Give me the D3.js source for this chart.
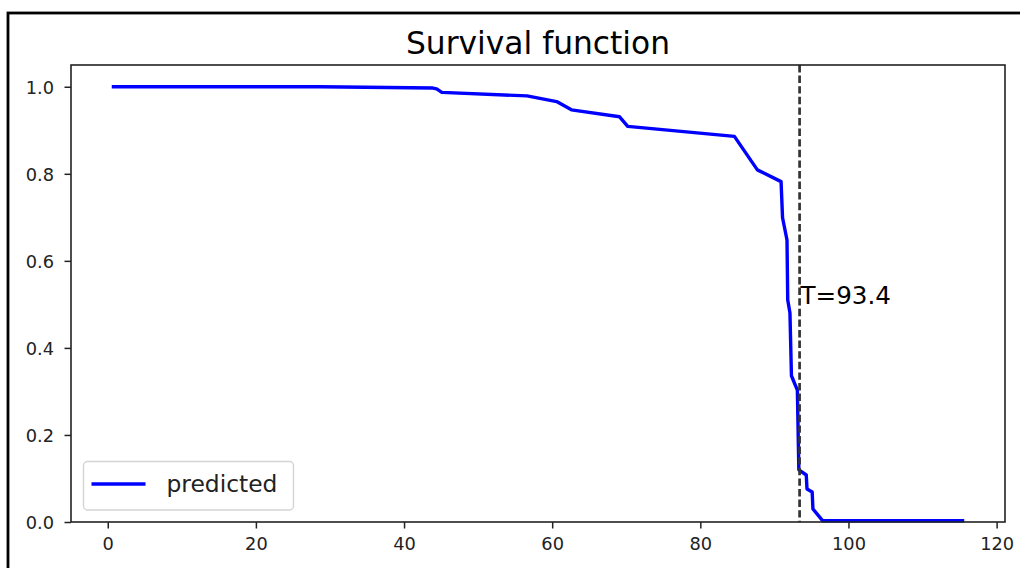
<!DOCTYPE html>
<html>
<head>
<meta charset="utf-8">
<script src="https://cdn.jsdelivr.net/npm/d3@7"></script>
<style>
  html, body { margin: 0; padding: 0; background: #fff; }
  svg { display: block; font-family: "DejaVu Sans", sans-serif; }
</style>
</head>
<body>
<svg id="chart" width="1020" height="568"></svg>
<script>
// Predicted survival curve S(t)
const times = [0.77, 28.7, 43.9, 44.4, 45.1, 56.6, 60.6, 62.6, 69.1, 70.2, 84.6, 87.7, 90.9,
               91.1, 91.7, 91.8, 92.1, 92.3, 93.1, 93.3, 94.3, 94.4, 95.1, 95.2, 96.5, 115.4];
const survival = [1.000, 1.000, 0.997, 0.995, 0.987, 0.979, 0.966, 0.947, 0.931, 0.909, 0.886, 0.809, 0.782,
                  0.699, 0.648, 0.510, 0.480, 0.336, 0.303, 0.120, 0.108, 0.076, 0.069, 0.030, 0.003, 0.003];
const thresholdT = [93.4];
const xTicks = [0, 20, 40, 60, 80, 100, 120];
const yTicks = [0.0, 0.2, 0.4, 0.6, 0.8, 1.0];
const seriesName = "predicted";
const titleText = "Survival function";

const svg = d3.select("#chart");
const W = 1020, H = 568;
const plot = { left: 71, right: 1005, top: 65, bottom: 522 };

// outer frame (extends beyond the visible area on the right and bottom)
svg.append("rect")
  .attr("x", 8).attr("y", 13)
  .attr("width", W + 20).attr("height", H + 20)
  .attr("fill", "none").attr("stroke", "#000").attr("stroke-width", 2.8);

const [xmin, xmax] = d3.extent(times);
const pad = (xmax - xmin) * 0.05;
const x = d3.scaleLinear().domain([xmin - pad, xmax + pad]).range([plot.left, plot.right]);
const y = d3.scaleLinear().domain([0, 1.05]).range([plot.bottom, plot.top]);

// axes
const xAxis = svg.append("g")
  .attr("transform", `translate(0,${plot.bottom})`)
  .call(d3.axisBottom(x).tickValues(xTicks).tickFormat(d3.format("d")).tickSize(6.5).tickPadding(9));
const yAxis = svg.append("g")
  .attr("transform", `translate(${plot.left},0)`)
  .call(d3.axisLeft(y).tickValues(yTicks).tickFormat(d3.format(".1f")).tickSize(6.5).tickPadding(10.5));

[xAxis, yAxis].forEach(g => {
  g.select(".domain").remove();
  g.selectAll(".tick line").attr("stroke", "#222").attr("stroke-width", 1.5);
  g.selectAll(".tick text")
    .attr("fill", "#222")
    .style("font-size", "17.8px")
    .style("font-family", "'DejaVu Sans', sans-serif");
});
xAxis.selectAll(".tick text").attr("dy", "0.71em");
yAxis.selectAll(".tick text").attr("dy", "0.36em");

// survival curve
const line = d3.line().x((d, i) => x(times[i])).y(d => y(d));
svg.append("path")
  .datum(survival)
  .attr("d", line)
  .attr("fill", "none")
  .attr("stroke", "#0000ff")
  .attr("stroke-width", 3.4)
  .attr("stroke-linejoin", "round")
  .attr("stroke-linecap", "square");

// threshold marker
svg.selectAll(".thresh")
  .data(thresholdT)
  .join("line")
  .attr("class", "thresh")
  .attr("x1", d => x(d)).attr("x2", d => x(d))
  .attr("y1", plot.top).attr("y2", plot.bottom)
  .attr("stroke", "#333")
  .attr("stroke-width", 2.7)
  .attr("stroke-dasharray", "7.4,3.2");

svg.selectAll(".thresh-label")
  .data(thresholdT)
  .join("text")
  .attr("class", "thresh-label")
  .attr("x", d => x(d) + 1)
  .attr("y", y(0.5))
  .attr("fill", "#000")
  .style("font-size", "24.6px")
  .text(d => `T=${d}`);

// plot frame
svg.append("rect")
  .attr("x", plot.left).attr("y", plot.top)
  .attr("width", plot.right - plot.left).attr("height", plot.bottom - plot.top)
  .attr("fill", "none").attr("stroke", "#222").attr("stroke-width", 1.6);

// title
svg.append("text")
  .attr("x", (plot.left + plot.right) / 2)
  .attr("y", 53.5)
  .attr("text-anchor", "middle")
  .attr("fill", "#000")
  .style("font-size", "31.3px")
  .text(titleText);

// legend
const lg = svg.append("g").attr("transform", "translate(83.5,461.5)");
lg.append("rect")
  .attr("width", 210).attr("height", 48.5).attr("rx", 4)
  .attr("fill", "#fff").attr("fill-opacity", 0.8)
  .attr("stroke", "#d4d4d4").attr("stroke-width", 1.4);
lg.append("line")
  .attr("x1", 8).attr("x2", 62).attr("y1", 22.5).attr("y2", 22.5)
  .attr("stroke", "#0000ff").attr("stroke-width", 3.4);
lg.append("text")
  .attr("x", 83).attr("y", 22.5).attr("dy", "0.36em")
  .attr("fill", "#222")
  .style("font-size", "23.4px")
  .text(seriesName);
</script>
</body>
</html>
